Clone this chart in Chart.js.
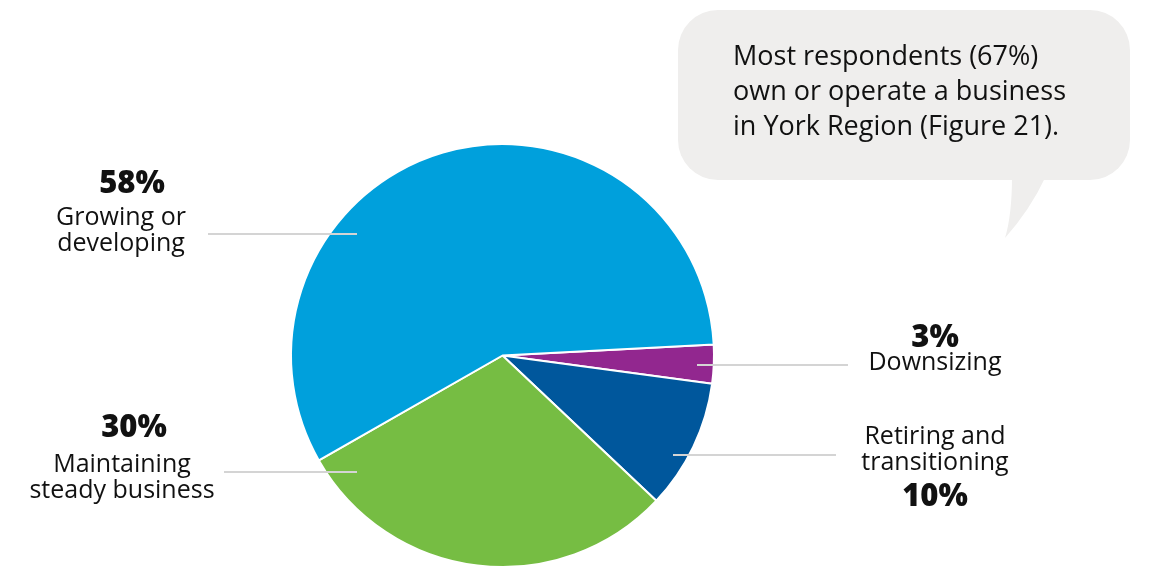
<!DOCTYPE html>
<html>
<head>
<meta charset="utf-8">
<script src="https://cdn.jsdelivr.net/npm/chart.js@4.4.1/dist/chart.umd.min.js"></script>
<style>
  html,body{margin:0;padding:0;background:#fff;}
  #wrap{position:relative;width:1153px;height:568px;}
</style>
</head>
<body>
<div id="wrap"><canvas id="c" width="1153" height="568"></canvas></div>
<script>
/* slices in clockwise order, starting just above 3 o'clock */
const labels = ['Downsizing', 'Retiring and transitioning', 'Maintaining steady business', 'Growing or developing'];
const values = [3, 10, 30, 58];
const colors = ['#92278f', '#00579c', '#76bd43', '#00a0dc'];
const pctText = values.map(v => v + '%');
const note = ['Most respondents (67%)', 'own or operate a business', 'in York Region (Figure 21).'];

const FONT = '"Open Sans", "Noto Sans", sans-serif';

/* labels, leader lines and callout bubble */
const annot = {
  id: 'annot',
  afterDraw(chart){
    const ctx = chart.ctx;
    ctx.save();
    // leader lines
    ctx.strokeStyle = '#d4d4d4'; ctx.lineWidth = 2;
    [[208,234,357],[224,472,357],[697,365,848],[673,455,836]].forEach(([a,y,b])=>{
      ctx.beginPath(); ctx.moveTo(a,y); ctx.lineTo(b,y); ctx.stroke();
    });
    ctx.fillStyle = '#111'; ctx.textAlign = 'center'; ctx.textBaseline = 'middle';
    const bold = t=>{ctx.font = '800 31px '+FONT; return t;};
    const reg = t=>{ctx.font = '25px '+FONT; return t;};
    // Growing
    ctx.fillText(bold(pctText[3]), 132, 184);
    ctx.fillText(reg('Growing or'), 121, 218);
    ctx.fillText(reg('developing'), 121, 244);
    // Maintaining
    ctx.fillText(bold(pctText[2]), 134, 428);
    ctx.fillText(reg('Maintaining'), 122, 465);
    ctx.fillText(reg('steady business'), 122, 491);
    // Downsizing
    ctx.fillText(bold(pctText[0]), 935, 338);
    ctx.fillText(reg('Downsizing'), 935, 363);
    // Retiring
    ctx.fillText(reg('Retiring and'), 935, 437);
    ctx.fillText(reg('transitioning'), 935, 463);
    ctx.fillText(bold(pctText[1]), 935, 497);

    // speech bubble
    ctx.fillStyle = '#efeeed';
    ctx.beginPath();
    ctx.roundRect(678, 10, 452, 170, 40);
    ctx.fill();
    ctx.beginPath();
    ctx.moveTo(1012, 176);
    ctx.quadraticCurveTo(1012, 215, 1005, 238);
    ctx.quadraticCurveTo(1030, 210, 1046, 176);
    ctx.closePath();
    ctx.fill();
    ctx.fillStyle = '#111'; ctx.textAlign = 'left';
    ctx.font = '27px '+FONT;
    note.forEach((t,i)=>ctx.fillText(t, 733, 57 + i*35));
    ctx.restore();
  }
};

new Chart(document.getElementById('c'), {
  type: 'pie',
  data: { labels, datasets: [{ data: values, backgroundColor: colors, borderColor: '#fff', borderWidth: 2 }] },
  options: {
    responsive: false,
    animation: false,
    rotation: 87,
    layout: { padding: { left: 290, right: 438, top: 143, bottom: 0 } },
    plugins: { legend: { display: false }, tooltip: { enabled: false } }
  },
  plugins: [annot]
});
</script>
</body>
</html>
